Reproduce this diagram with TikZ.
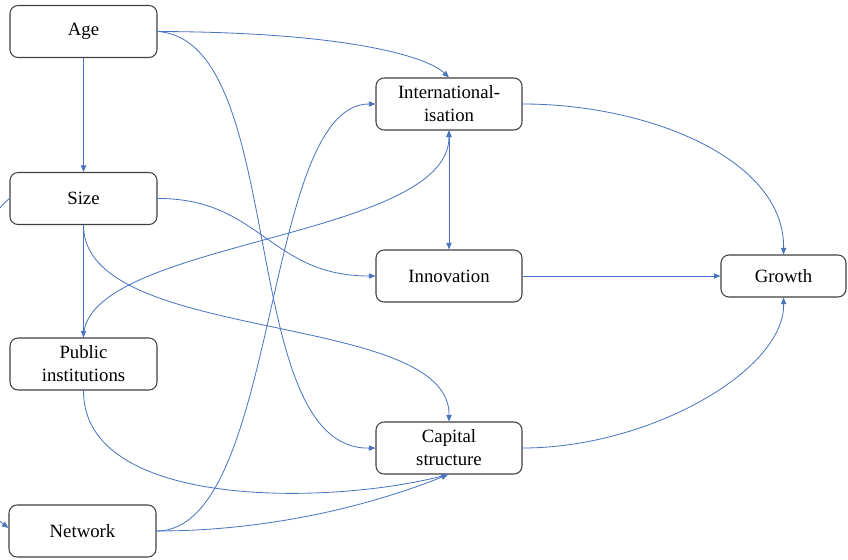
\documentclass[tikz,border=0pt]{standalone}
\usepackage{fontspec}
\setmainfont{Liberation Serif}
\usetikzlibrary{arrows.meta}
\definecolor{conn}{RGB}{74,116,192}
\definecolor{boxline}{RGB}{64,64,64}
\tikzset{
  box/.style={draw=boxline, line width=0.9pt, rounded corners=0.24cm, fill=white,
    align=center, font=\fontsize{16}{19.6}\selectfont, inner sep=0pt,
    minimum width=4.41cm, minimum height=1.56cm},
  link/.style={draw=conn, line width=0.7pt, -{Triangle[length=0.2cm,width=0.16cm]}},
  dlink/.style={draw=conn, line width=0.7pt, {Triangle[length=0.2cm,width=0.16cm]}-{Triangle[length=0.2cm,width=0.16cm]}}
}
\begin{document}
\begin{tikzpicture}[x=0.03cm,y=-0.03cm]
\clip (0,0) rectangle (848,559);
\fill[white] (0,0) rectangle (848,559);
% nodes
\node[box] (age) at (83.5,31.5) {Age};
\node[box] (size) at (83.5,198.5) {Size};
\node[box] (pub) at (83.5,364) {Public\\institutions};
\node[box] (net) at (82.5,531) {Network};
\node[box, minimum width=4.38cm] (intl) at (449,104) {International-\\isation};
\node[box, minimum width=4.38cm] (inno) at (449,276) {Innovation};
\node[box, minimum width=4.38cm] (cap) at (449,448) {Capital\\structure};
\node[box, minimum width=3.75cm, minimum height=1.26cm] (grow) at (783.5,276) {Growth};
% connectors
\draw[link] (age.south) -- (size.north);
\draw[link] (age.east) .. controls (340,32) and (425,55) .. (intl.north);
\draw[link] (age.east) .. controls (290,40) and (235,450) .. (cap.west);
\draw[link] (size.east) .. controls (260,198) and (270,276) .. (inno.west);
\draw[link] (size.south) -- (pub.north);
\draw[link] (size.south) .. controls (83,345) and (450,310) .. (cap.north);
\draw[link] (size.west) .. controls (-55,250) and (-55,480) .. ([yshift=0.03cm*3]net.west);
\draw[link] (pub.north) .. controls (83,240) and (449,240) .. (intl.south);
\coordinate (capb) at ([xshift=-0.03cm]cap.south);
\draw[link] (pub.south) .. controls (83,510) and (330,505) .. (capb);
\draw[link] (net.east) .. controls (280,531) and (262,104) .. (intl.west);
\draw[link] (net.east) .. controls (300,531) and (410,490) .. (capb);
\draw[dlink] (intl.south) -- (inno.north);
\draw[link] (intl.east) .. controls (650,104) and (785,160) .. (grow.north);
\draw[link] (inno.east) -- (grow.west);
\draw[link] (cap.east) .. controls (650,448) and (785,370) .. (grow.south);
\end{tikzpicture}
\end{document}
